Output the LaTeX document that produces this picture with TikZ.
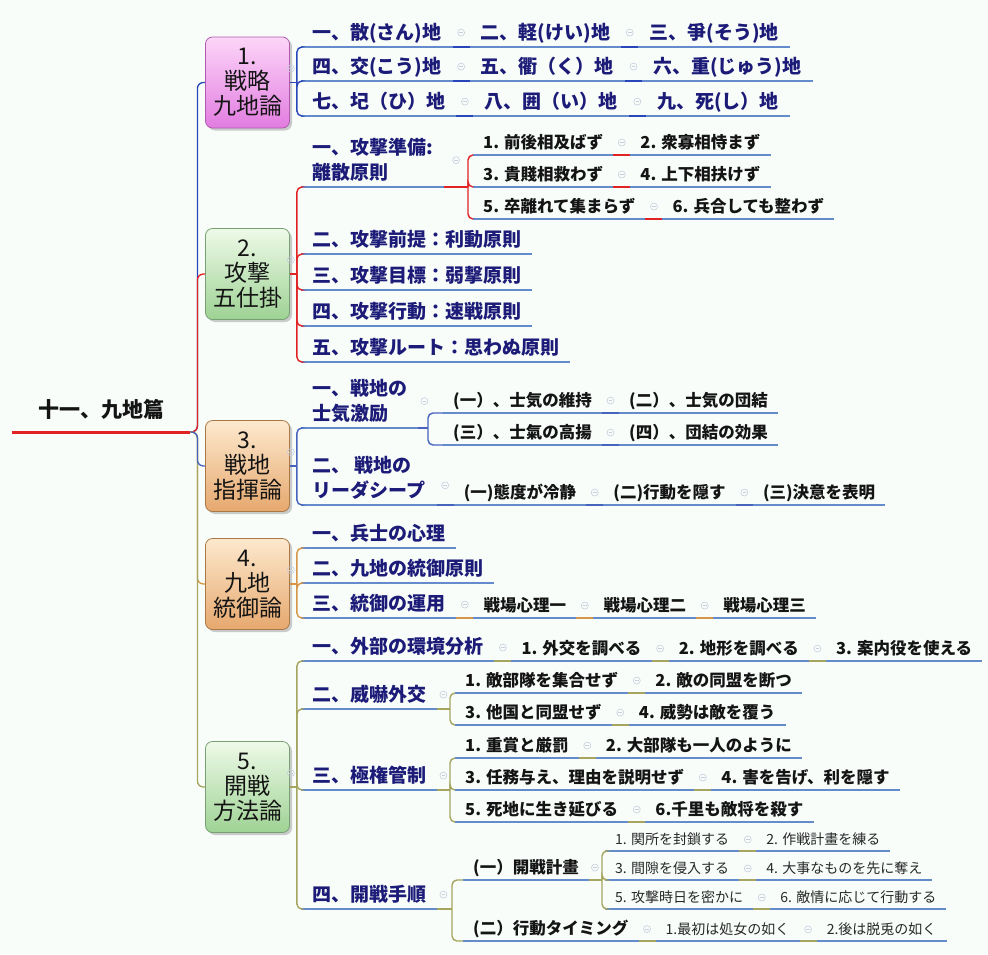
\documentclass[tikz,border=0pt]{standalone}
\usepackage{fontspec}
\newfontfamily\jpfont{Noto Sans CJK JP}
\usetikzlibrary{calc,shadows}
\definecolor{bg}{RGB}{248,253,250}
\definecolor{navy}{RGB}{28,28,120}
\definecolor{ink}{RGB}{20,20,20}
\definecolor{inkb}{RGB}{40,40,40}
\definecolor{ulblue}{RGB}{100,140,205}
\definecolor{brA}{RGB}{40,70,185}
\definecolor{brR}{RGB}{225,35,35}
\definecolor{brB}{RGB}{70,100,190}
\definecolor{brO}{RGB}{215,150,70}
\definecolor{brG}{RGB}{165,165,95}
\definecolor{colc}{RGB}{200,206,222}
\definecolor{pinkT}{RGB}{252,214,248}
\definecolor{pinkB}{RGB}{226,124,224}
\definecolor{pinkD}{RGB}{175,90,175}
\definecolor{greenT}{RGB}{238,250,232}
\definecolor{greenB}{RGB}{158,210,148}
\definecolor{greenD}{RGB}{120,160,115}
\definecolor{peachT}{RGB}{253,233,206}
\definecolor{peachB}{RGB}{230,168,110}
\definecolor{peachD}{RGB}{170,120,70}
\newcommand{\mmnext}[5]{%
  \node[#1, at={([xshift=17pt]#2.south east)}] (#3) {#5};
  \draw[draw=#4, line width=2pt] (#2.south east) -- (#3.south west);
  \node[col] at ($(#2.east)!0.5!(#3.west)$) {};
}
\newcommand{\twoline}[2]{\begin{tabular}[b]{@{}l@{}}#1\\#2\end{tabular}}
\begin{document}
\begin{tikzpicture}[x=1pt,y=-1pt,
  ul/.style={draw=ulblue, line width=2pt},
  ulroot/.style={draw=brR, line width=3pt},
  ulbase/.style={inner ysep=0pt, anchor=south west,
    append after command={(\tikzlastnode.south west) edge[#1] (\tikzlastnode.south east)}},
  ulbase/.default=ul,
  tA/.style={ulbase, font=\jpfont\bfseries\fontsize{19}{25}\selectfont, text=navy,
    inner xsep=11pt, text height=21.4pt, text depth=7pt},
  tAA/.style={tA, text height=46.4pt},
  tB/.style={ulbase, font=\jpfont\bfseries\fontsize{16.5}{20}\selectfont, text=ink,
    inner xsep=10pt, text height=18.5pt, text depth=6pt},
  tC/.style={ulbase, font=\jpfont\fontsize{14}{17}\selectfont, text=inkb,
    inner xsep=10pt, text height=16.6pt, text depth=6pt},
  rootst/.style={ulbase=ulroot, font=\jpfont\bfseries\fontsize{21}{25}\selectfont, text=ink,
    inner xsep=26pt, text height=30pt, text depth=14pt},
  boxst/.style={rounded corners=7pt, minimum width=84pt, minimum height=91pt, align=center,
    font=\jpfont\fontsize{23}{25}\selectfont, text=ink, line width=0.8pt, inner sep=0pt,
    drop shadow={opacity=0.4, shadow xshift=2.5pt, shadow yshift=-2.5pt}},
  col/.style={circle, draw=colc, line width=0.6pt, minimum size=7pt, inner sep=0pt,
    path picture={\draw[colc, line width=0.6pt] ([xshift=-1.8pt]path picture bounding box.center) -- ([xshift=1.8pt]path picture bounding box.center);}},
  trunk/.style={line width=1.3pt, rounded corners=6pt},
  brk/.style={line width=1.4pt},
  brkr/.style={line width=1.4pt, rounded corners=5pt}
]
\fill[bg] (0,0) rectangle (988,954);
\useasboundingbox (0,0) rectangle (988,954);

% root
\node[rootst] (root) at (12,432) {十一、九地篇};
\coordinate (hub) at ([xshift=7pt]root.south east);

% main boxes
\node[boxst, top color=pinkT, bottom color=pinkB, draw=pinkD] (b1) at (247.5,82.5) {1.\\戦略\\九地論};
\node[boxst, top color=greenT, bottom color=greenB, draw=greenD] (b2) at (247.5,274) {2.\\攻撃\\五仕掛};
\node[boxst, top color=peachT, bottom color=peachB, draw=peachD] (b3) at (247.5,466) {3.\\戦地\\指揮論};
\node[boxst, top color=peachT, bottom color=peachB, draw=peachD] (b4) at (247.5,584) {4.\\九地\\統御論};
\node[boxst, top color=greenT, bottom color=greenB, draw=greenD] (b5) at (247.5,787) {5.\\開戦\\方法論};

% trunk connectors
\draw[trunk, brA] (root.south east) -- (hub) |- (b1.west);
\draw[trunk, brR] (root.south east) -- (hub) |- (b2.west);
\draw[trunk, brO] (root.south east) -- (hub) |- (b4.west);
\draw[trunk, brG] (root.south east) -- (hub) |- (b5.west);
\draw[trunk, brB] (root.south east) -- (hub) |- (b3.west);

\foreach \b in {b1,b2,b3,b4,b5} \node[col] at ([shift={(1pt,14pt)}]\b.east) {};

% ---------- 1 ----------
\node[tA] (r1a) at (301,47) {一、散(さん)地};
\mmnext{tA}{r1a}{r1b}{brA}{二、軽(けい)地}
\mmnext{tA}{r1b}{r1c}{brA}{三、爭(そう)地}
\node[tA] (r2a) at (301,81) {四、交(こう)地};
\mmnext{tA}{r2a}{r2b}{brA}{五、衢（く）地}
\mmnext{tA}{r2b}{r2c}{brA}{六、重(じゅう)地}
\node[tA] (r3a) at (301,116) {七、圮（ひ）地};
\mmnext{tA}{r3a}{r3b}{brA}{八、囲（い）地}
\mmnext{tA}{r3b}{r3c}{brA}{九、死(し）地}
\coordinate (k1) at ([xshift=7pt]b1.east);
\draw[brk, brA] (b1.east) -- (k1);
\foreach \n in {r1a,r2a,r3a} \draw[brkr, brA] (k1) |- (\n.south west);

% ---------- 2 ----------
\node[tAA] (p21) at (301,187) {\twoline{一、攻撃準備:}{離散原則}};
\node[tA] (p22) at (301,254) {二、攻撃前提：利動原則};
\node[tA] (p23) at (301,290) {三、攻撃目標：弱撃原則};
\node[tA] (p24) at (301,326) {四、攻撃行動：速戦原則};
\node[tA] (p25) at (301,362) {五、攻撃ルート：思わぬ原則};
\coordinate (k2) at ([xshift=7pt]b2.east);
\draw[brk, brR] (b2.east) -- (k2);
\foreach \n in {p21,p22,p23,p24,p25} \draw[brkr, brR] (k2) |- (\n.south west);
\node[col] at ([xshift=12pt]p21.east) {};
\coordinate (k21) at (468,187);
\draw[brk, brR] (p21.south east) -- (k21);
\node[tB] (c1a) at (473,155) {1. 前後相及ばず};
\mmnext{tB}{c1a}{c1b}{brR}{2. 衆寡相恃まず}
\node[tB] (c2a) at (473,187) {3. 貴賤相救わず};
\mmnext{tB}{c2a}{c2b}{brR}{4. 上下相扶けず}
\node[tB] (c3a) at (473,219) {5. 卒離れて集まらず};
\mmnext{tB}{c3a}{c3b}{brR}{6. 兵合しても整わず}
\foreach \n in {c1a,c2a,c3a} \draw[brkr, brR] (k21) |- (\n.south west);

% ---------- 3 ----------
\node[tAA] (p31) at (301,428) {\twoline{一、戦地の}{士気激励}};
\node[tAA] (p32) at (301,505) {\twoline{二、 戦地の}{リーダシープ}};
\coordinate (k3) at ([xshift=7pt]b3.east);
\draw[brk, brB] (b3.east) -- (k3);
\foreach \n in {p31,p32} \draw[brkr, brB] (k3) |- (\n.south west);
\node[col] at ([xshift=6pt]p31.east) {};
\coordinate (k31) at (428,428);
\draw[brk, brB] (p31.south east) -- (k31);
\node[tB] (d1a) at (443,413) {(一）、士気の維持};
\mmnext{tB}{d1a}{d1b}{brB}{(二）、士気の団結}
\node[tB] (d2a) at (443,445) {(三）、士氣の高揚};
\mmnext{tB}{d2a}{d2b}{brB}{(四）、団結の効果}
\foreach \n in {d1a,d2a} \draw[brkr, brB] (k31) |- (\n.south west);
\mmnext{tB}{p32}{d3a}{brB}{(一)態度が冷静}
\mmnext{tB}{d3a}{d3b}{brB}{(二)行動を隠す}
\mmnext{tB}{d3b}{d3c}{brB}{(三)決意を表明}

% ---------- 4 ----------
\node[tA] (p41) at (301,548) {一、兵士の心理};
\node[tA] (p42) at (301,583) {二、九地の統御原則};
\node[tA] (p43) at (301,618) {三、統御の運用};
\coordinate (k4) at ([xshift=7pt]b4.east);
\draw[brk, brO] (b4.east) -- (k4);
\foreach \n in {p41,p42,p43} \draw[brkr, brO] (k4) |- (\n.south west);
\mmnext{tB}{p43}{g1}{brO}{戦場心理一}
\mmnext{tB}{g1}{g2}{brO}{戦場心理二}
\mmnext{tB}{g2}{g3}{brO}{戦場心理三}

% ---------- 5 ----------
\node[tA] (p51) at (301,661) {一、外部の環境分析};
\node[tA] (p52) at (301,709) {二、威嚇外交};
\node[tA] (p53) at (301,790) {三、極権管制};
\node[tA] (p54) at (301,909) {四、開戦手順};
\coordinate (k5) at ([xshift=7pt]b5.east);
\draw[brk, brG] (b5.east) -- (k5);
\foreach \n in {p51,p52,p53,p54} \draw[brkr, brG] (k5) |- (\n.south west);

\mmnext{tB}{p51}{h1}{brG}{1. 外交を調べる}
\mmnext{tB}{h1}{h2}{brG}{2. 地形を調べる}
\mmnext{tB}{h2}{h3}{brG}{3. 案内役を使える}

\node[col] at ([xshift=6pt]p52.east) {};
\coordinate (k52) at (450,709);
\draw[brk, brG] (p52.south east) -- (k52);
\node[tB] (m1a) at (455,693) {1. 敵部隊を集合せず};
\mmnext{tB}{m1a}{m1b}{brG}{2. 敵の同盟を断つ}
\node[tB] (m2a) at (455,725) {3. 他国と同盟せず};
\mmnext{tB}{m2a}{m2b}{brG}{4. 威勢は敵を覆う}
\foreach \n in {m1a,m2a} \draw[brkr, brG] (k52) |- (\n.south west);

\node[col] at ([xshift=6pt]p53.east) {};
\coordinate (k53) at (450,790);
\draw[brk, brG] (p53.south east) -- (k53);
\node[tB] (n1a) at (455,758) {1. 重賞と厳罰};
\mmnext{tB}{n1a}{n1b}{brG}{2. 大部隊も一人のように}
\node[tB] (n2a) at (455,790) {3. 任務与え、理由を説明せず};
\mmnext{tB}{n2a}{n2b}{brG}{4. 害を告げ、利を隠す}
\node[tB] (n3a) at (455,822) {5. 死地に生き延びる};
\mmnext{tB}{n3a}{n3b}{brG}{6.千里も敵将を殺す}
\foreach \n in {n1a,n2a,n3a} \draw[brkr, brG] (k53) |- (\n.south west);

\node[col] at ([xshift=6pt]p54.east) {};
\coordinate (k54) at (452,909);
\draw[brk, brG] (p54.south east) -- (k54);
\node[tB] (q1) at (463,880) {(一）開戦計畫};
\node[tB] (q2) at (463,941) {(二）行動タイミング};
\foreach \n in {q1,q2} \draw[brkr, brG] (k54) |- (\n.south west);

\node[col] at ([xshift=6pt]q1.east) {};
\coordinate (k541) at (602,880);
\draw[brk, brG] (q1.south east) -- (k541);
\node[tC] (s1a) at (605,851) {1. 関所を封鎖する};
\mmnext{tC}{s1a}{s1b}{brG}{2. 作戦計畫を練る}
\node[tC] (s2a) at (605,880) {3. 間隙を侵入する};
\mmnext{tC}{s2a}{s2b}{brG}{4. 大事なものを先に奪え}
\node[tC] (s3a) at (605,909) {5. 攻撃時日を密かに};
\mmnext{tC}{s3a}{s3b}{brG}{6. 敵情に応じて行動する}
\foreach \n in {s1a,s2a,s3a} \draw[brkr, brG] (k541) |- (\n.south west);

\mmnext{tC}{q2}{t1}{brG}{1.最初は処女の如く}
\mmnext{tC}{t1}{t2}{brG}{2.後は脱兎の如く}
\end{tikzpicture}
\end{document}
